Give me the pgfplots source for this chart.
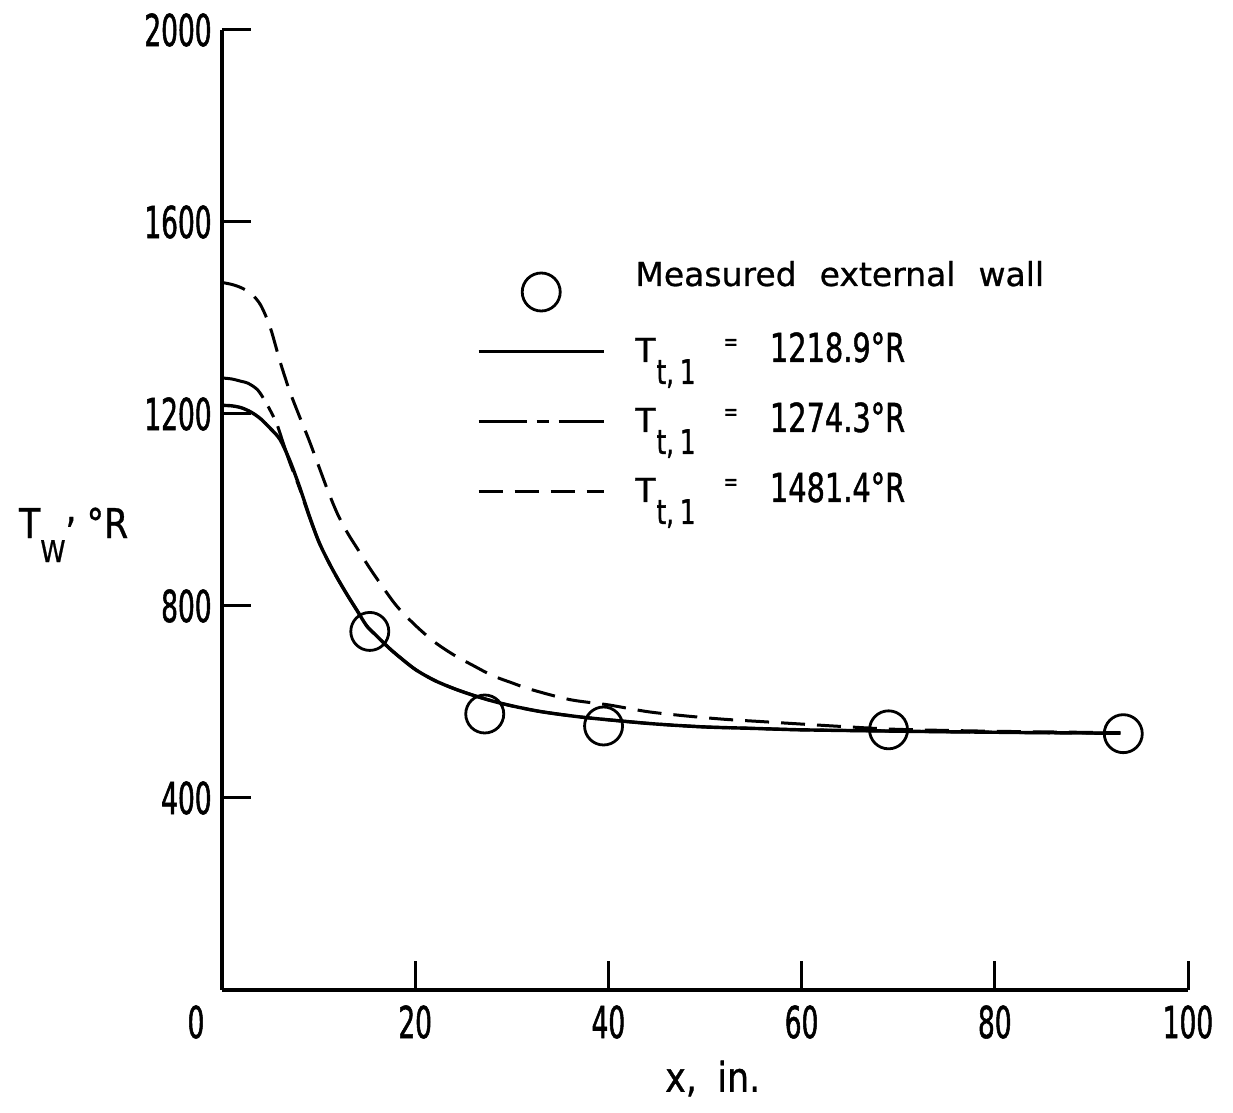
\documentclass[border=0pt]{standalone}
\usepackage{fontspec}
\setmainfont{DejaVu Sans}[FakeStretch=0.85, FakeBold=0.8]
\newfontfamily\tickfont{DejaVu Sans}[FakeStretch=0.6, FakeBold=1.2]
\newfontfamily\numfont{DejaVu Sans}[FakeStretch=0.72, FakeBold=1]
\newfontfamily\legfont{DejaVu Sans}[WordSpace=2.2, FakeBold=0.8]
\usepackage{pgfplots}
\pgfplotsset{compat=1.18}

% legend label: T_{t,1} = <value> degR
\newcommand\Ttone[1]{T\kern0.5pt\raisebox{-11pt}{\numfont\fontsize{17}{17}\selectfont t,\kern3pt 1}\hspace{14pt}\raisebox{6pt}{\numfont\fontsize{12}{12}\selectfont =}\hspace{16pt}{\numfont\fontsize{20}{20}\selectfont #1°R}}

\pgfplotsset{
  keyline/.style={legend image code/.code={\draw[mark repeat=2,mark phase=2,##1] plot coordinates {(0pt,0pt) (31.25pt,0pt) (62.5pt,0pt)};}},
  keymark/.style={legend image code/.code={\draw[##1] plot coordinates {(31.25pt,-8.25pt)};}},
}

\begin{document}
\begin{tikzpicture}
\useasboundingbox (-111pt,-61.5pt) rectangle (505.5pt,495pt);
\begin{axis}[
  at={(0pt,0pt)}, anchor=south west,
  scale only axis, width=483pt, height=480pt,
  xmin=0, xmax=100, ymin=0, ymax=2000,
  clip=false,
  axis lines=left,
  axis line style={-, line width=1.75pt},
  xtick={20,40,60,80,100},
  ytick={400,800,1200,1600,2000},
  tick align=inside,
  major tick length=14.5pt,
  tick style={line width=1.5pt, black},
  /pgf/number format/assume math mode=true,
  /pgf/number format/1000 sep={},
  tick label style={font=\tickfont\fontsize{22}{24}\selectfont},
  xticklabel style={inner sep=0pt, yshift=-7.5pt},
  yticklabel style={inner sep=0pt, xshift=-5pt},
  xlabel={x,\hspace{0.5em}in.},
  ylabel={T\raisebox{-12pt}{\fontsize{15}{15}\selectfont W}\raisebox{8pt}{,}\hspace{5pt}°R},
  every axis x label/.style={at={(axis description cs:0.508,-0.106)}, anchor=base, font=\fontsize{20.5}{24}\selectfont},
  every axis y label/.style={at={(axis description cs:-0.2174,0.4708)}, anchor=base west, font=\fontsize{20.5}{24}\selectfont},
  legend cell align=left,
  legend style={
    at={(axis description cs:0.264,0.775)}, anchor=north west,
    draw=none, fill=none, inner sep=0pt, outer sep=0pt,
    row sep=5.5pt, column sep=15pt,
    nodes={inner sep=0pt, text height=20pt, text depth=9.5pt},
    font=\legfont\fontsize{16.5}{20}\selectfont,
  },
  keyline,
  measured/.style={only marks, mark=o, mark size=9.5pt, mark options={fill=white, line width=1.4pt, solid}},
  case1/.style={line width=1.7pt, smooth},
  case2/.style={line width=1.5pt, dash pattern=on 24pt off 5pt on 6pt off 5pt, smooth},
  case3/.style={line width=1.5pt, dash pattern=on 12pt off 6pt, smooth},
]

% legend entries, listed in the order they appear in the key
\addlegendimage{measured, keymark}
\addlegendentry{Measured external wall}
\addlegendimage{case1}
\addlegendentry{\Ttone{1218.9}}
\addlegendimage{case2}
\addlegendentry{\Ttone{1274.3}}
\addlegendimage{case3}
\addlegendentry{\Ttone{1481.4}}

% T_t,1 = 1218.9 R
\addplot[case1, forget plot] coordinates {
 (0,1218) (1,1217) (2,1213) (3,1204) (4,1190) (5,1170) (6,1147) (7,1104)
 (8,1050) (9,990) (10,935) (11,893) (12,856) (13,822) (14,790) (15,758)
 (16,738) (17,718) (18,700) (20,668) (22,645) (24,628) (26,614) (28,602)
 (30,592) (33,580) (37,569) (41,561) (45,554) (50,548) (55,545) (60,542)
 (67,540) (75,538) (85,536) (93,535)
};
% T_t,1 = 1274.3 R
\addplot[case2, forget plot] coordinates {
 (0,1275) (1,1273) (2,1268) (2.7,1264) (3.7,1250) (4.6,1222) (5.6,1183)
 (6.2,1148) (7,1100) (8,1047) (9,988) (10,935) (11,893) (12,856) (13,822)
 (14,790) (15,758) (16,738) (17,718) (18,700) (20,668) (22,645) (24,628)
 (26,614) (28,602) (30,592) (33,580) (37,569) (41,561) (45,554) (50,548)
 (55,545) (60,542) (67,540) (75,538) (85,536) (93,535)
};
% measured external wall temperatures
\addplot[measured, forget plot] coordinates {
 (15.3,747) (27.2,575) (39.5,550) (69.0,542) (93.3,534)
};
% T_t,1 = 1481.4 R
\addplot[case3, forget plot] coordinates {
 (0,1474) (1,1470) (2,1463) (3,1451) (4,1427) (5,1380) (6,1310) (7,1248)
 (8,1196) (9,1146) (10,1092) (11,1038) (12,990) (13,952) (14,920) (15,888)
 (16,858) (18,802) (20,760) (22,725) (24,698) (26,676) (28,655) (30,640)
 (32,626) (36,605) (40,594) (44,580) (48,571) (52,564) (56,559) (60,554)
 (65,548) (70,543) (80,539) (93,536)
};

% shared origin label
\node[anchor=north, inner sep=0pt, xshift=-13pt, yshift=-7.5pt, font=\tickfont\fontsize{22}{24}\selectfont] at (axis cs:0,0) {0};
\end{axis}
\end{tikzpicture}
\end{document}
